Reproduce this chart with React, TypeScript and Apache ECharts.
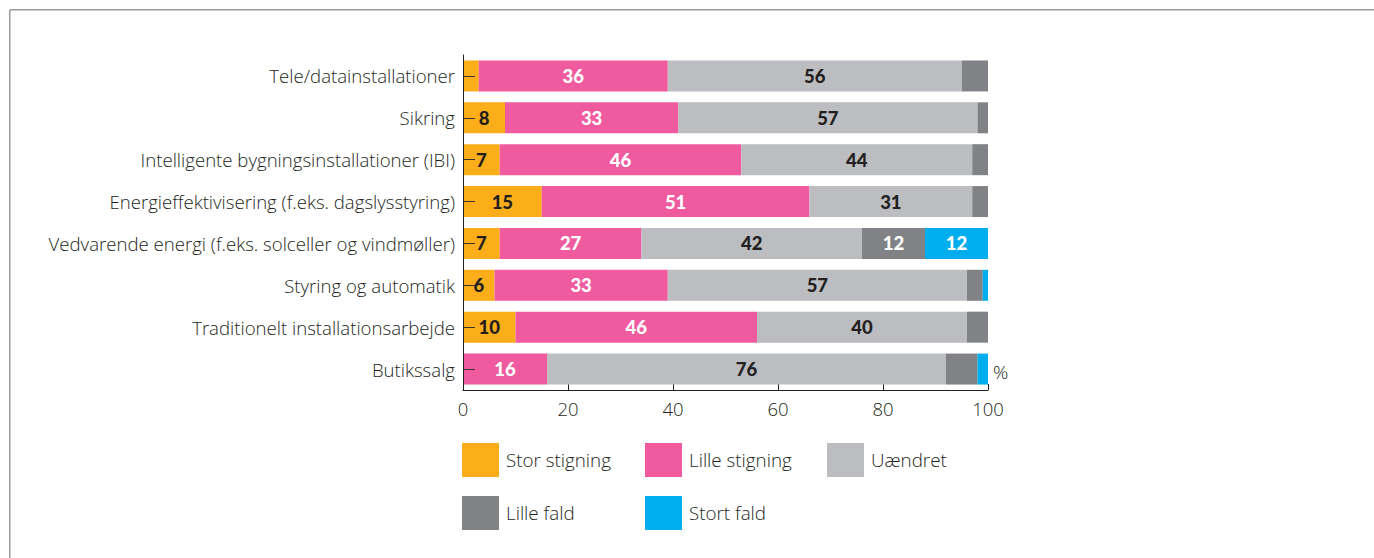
import React, { useEffect, useRef } from "react";
import * as echarts from "echarts";

const categories = [
  "Tele/datainstallationer",
  "Sikring",
  "Intelligente bygningsinstallationer (IBI)",
  "Energieffektivisering (f.eks. dagslysstyring)",
  "Vedvarende energi (f.eks. solceller og vindmøller)",
  "Styring og automatik",
  "Traditionelt installationsarbejde",
  "Butikssalg",
];
const storStigning = [3, 8, 7, 15, 7, 6, 10, 0];
const lilleStigning = [36, 33, 46, 51, 27, 33, 46, 16];
const uaendret = [56, 57, 44, 31, 42, 57, 40, 76];
const lilleFald = [5, 2, 3, 3, 12, 3, 4, 6];
const stortFald = [0, 0, 0, 0, 12, 1, 0, 2];
const xTicks = [0, 20, 40, 60, 80, 100];

const seriesNames = ["Stor stigning", "Lille stigning", "Uændret", "Lille fald", "Stort fald"];
const seriesData = [storStigning, lilleStigning, uaendret, lilleFald, stortFald];
const colors = ["#FBAE1A", "#F05BA0", "#BCBDC1", "#808285", "#00AEEF"];
const labelColors = ["#231F20", "#FFFFFF", "#231F20", "#FFFFFF", "#FFFFFF"];
const labelMin = [6, 1, 1, 10, 10];

const FONT = "'Open Sans', sans-serif";
const TXT = "#231F20";

export default function App() {
  const ref = useRef<HTMLDivElement>(null);
  useEffect(() => {
    if (!ref.current) return;
    const chart = echarts.init(ref.current, null, { renderer: "svg" });
    const legendPos = [
      [462, 443],
      [645, 443],
      [827, 443],
      [462, 496],
      [645, 496],
    ];
    chart.setOption({
      animation: false,
      backgroundColor: "#ffffff",
      grid: { left: 463, top: 55, width: 525, height: 335, containLabel: false },
      xAxis: {
        type: "value",
        min: 0,
        max: 100,
        interval: 20,
        axisLine: { show: true, lineStyle: { color: "#231F20", width: 1 } },
        axisTick: { show: true, inside: true, length: 6, lineStyle: { color: "#231F20" } },
        splitLine: { show: false },
        axisLabel: {
          color: TXT,
          fontSize: 18.5,
          fontWeight: 300,
          fontFamily: FONT,
          margin: 9,
          formatter: (v: number) => (xTicks.includes(v) ? String(v) : ""),
        },
      },
      yAxis: {
        type: "category",
        data: categories,
        inverse: true,
        z: 5,
        axisLine: { show: true, lineStyle: { color: "#231F20", width: 1 } },
        axisTick: {
          show: true,
          inside: true,
          length: 12,
          alignWithLabel: true,
          lineStyle: { color: "#3a3330", width: 1 },
        },
        axisLabel: { color: TXT, fontSize: 18.6, fontWeight: 300, fontFamily: FONT, margin: 8 },
      },
      legend: seriesNames.map((n, i) => ({
        data: [n],
        left: legendPos[i][0],
        top: legendPos[i][1],
        padding: 0,
        itemWidth: 37,
        itemHeight: 34,
        icon: "rect",
        selectedMode: false,
        textStyle: {
          color: TXT,
          fontSize: 18.8,
          fontWeight: 300,
          fontFamily: FONT,
          padding: [0, 0, 0, 2],
        },
      })),
      series: seriesNames.map((n, i) => ({
        name: n,
        type: "bar",
        stack: "total",
        barWidth: 31,
        data: seriesData[i],
        itemStyle: { color: colors[i] },
        label: {
          show: true,
          position: "inside",
          color: labelColors[i],
          fontSize: 18.5,
          fontWeight: 900,
          fontFamily: "Lato, sans-serif",
          formatter: (p: any) => (p.value >= labelMin[i] ? String(p.value) : ""),
        },
      })),
      graphic: [
        {
          type: "text",
          left: 993,
          top: 362,
          style: { text: "%", fontSize: 19, fontWeight: 300, fontFamily: FONT, fill: TXT },
        },
        {
          type: "line",
          shape: { x1: 10, y1: 9.75, x2: 1374, y2: 9.75 },
          style: { stroke: "#999", lineWidth: 1.5 },
        },
        {
          type: "line",
          shape: { x1: 9.75, y1: 9.75, x2: 9.75, y2: 558 },
          style: { stroke: "#999", lineWidth: 1.5 },
        },
      ],
    });
    return () => chart.dispose();
  }, []);
  return (
    <div
      ref={ref}
      style={{ position: "fixed", left: 0, top: 0, width: 1374, height: 558 }}
    />
  );
}
